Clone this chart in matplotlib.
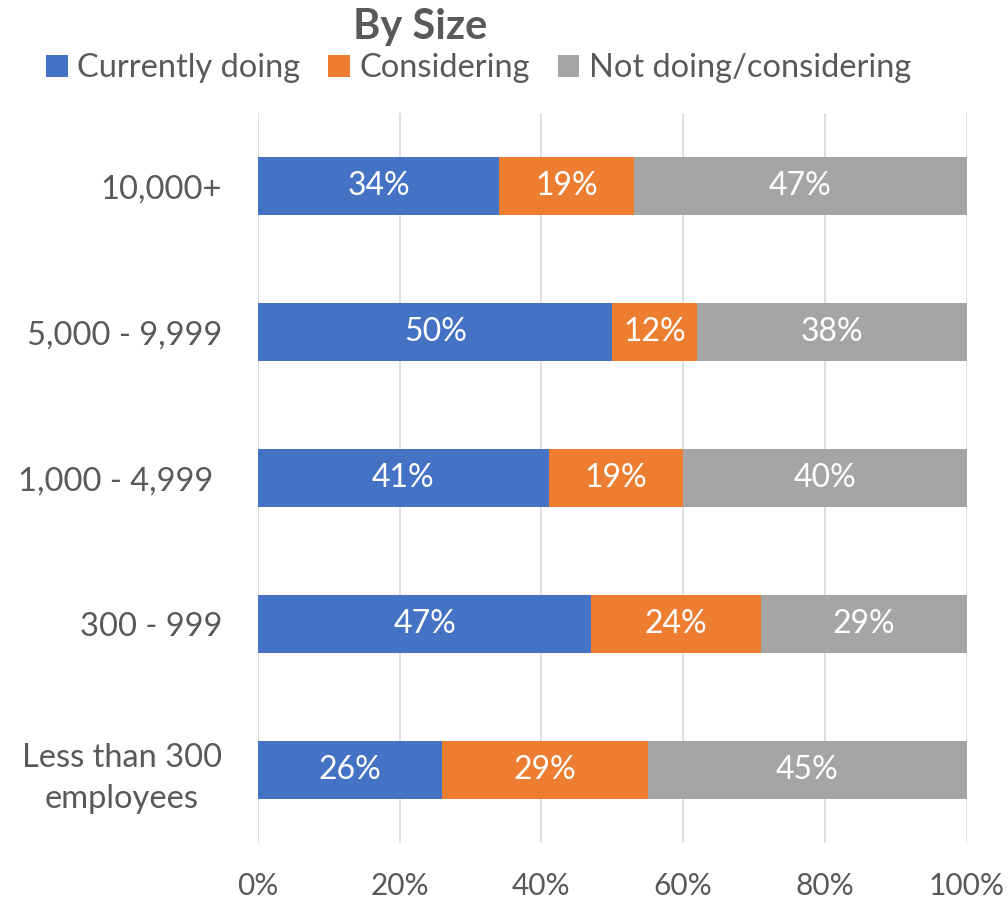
import matplotlib
matplotlib.use("agg")
import matplotlib.pyplot as plt
import numpy as np

plt.rcParams['font.family'] = ['Lato', 'DejaVu Sans']

categories = ['Less than 300\nemployees', '300 - 999', '1,000 - 4,999 ', '5,000 - 9,999', '10,000+']
doing = [26, 47, 41, 50, 34]
considering = [29, 24, 19, 12, 19]
not_doing = [45, 29, 40, 38, 47]
series_names = ['Currently doing', 'Considering', 'Not doing/considering']
colors = ['#4472C4', '#ED7D31', '#A5A5A5']

fig = plt.figure(figsize=(10.08, 8.99), dpi=100)
ax = fig.add_axes([0.256, 0.0623, 0.703, 0.8117])

y = np.arange(len(categories))
left = np.zeros(len(categories))
for vals, name, c in zip([doing, considering, not_doing], series_names, colors):
    vals = np.array(vals)
    ax.barh(y, vals, left=left, height=0.4, color=c, label=name, zorder=3)
    for yi, l, v in zip(y, left, vals):
        ax.text(l + v / 2, yi, f'{v}%', ha='center', va='center',
                color='white', fontsize=23, zorder=4)
    left = left + vals

ax.set_xlim(0, 100)
ax.set_ylim(-0.5, 4.5)
ax.set_xticks(np.arange(0, 101, 20))
ax.set_xticklabels([f'{t}%' for t in range(0, 101, 20)], fontsize=21.5, color='#595959')
ax.set_yticks(y)
ax.set_yticklabels(categories, fontsize=23.5, color='#595959',
                   multialignment='center', linespacing=1.45)
ax.tick_params(length=0)
ax.tick_params(axis='y', pad=26)
ax.tick_params(axis='x', pad=21)
for s in ax.spines.values():
    s.set_visible(False)
ax.grid(axis='x', color='#D9D9D9', linewidth=1.2, zorder=0)

fig.text(0.417, 0.970, 'By Size', ha='center', va='center', fontsize=30,
         fontweight='bold', color='#595959')
fig.legend(loc='center', bbox_to_anchor=(0.475, 0.924), ncol=3, frameon=False,
           fontsize=23.5, handlelength=0.65, handleheight=0.65, handletextpad=0.3,
           columnspacing=0.85, labelcolor='#595959')

plt.savefig('out.png', dpi=100)
